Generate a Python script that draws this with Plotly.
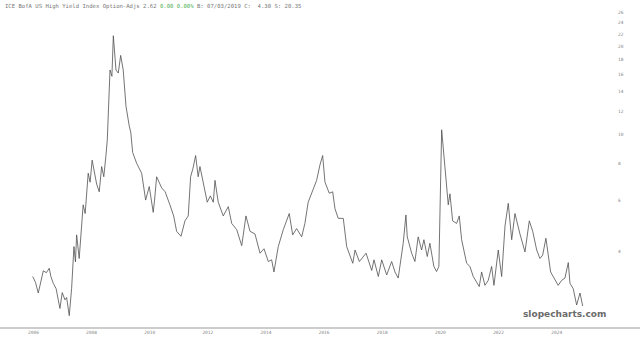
import plotly.graph_objects as go

dates = [
    "2006-03-01", "2006-04-05", "2006-05-10", "2006-06-10", "2006-07-12", "2006-08-20",
    "2006-09-25", "2006-10-15", "2006-11-14", "2006-12-20",
    "2007-02-06", "2007-03-07", "2007-04-10", "2007-05-01", "2007-06-03", "2007-07-03",
    "2007-08-01", "2007-08-20", "2007-09-04", "2007-10-06", "2007-11-25", "2007-12-20",
    "2008-01-27", "2008-02-20", "2008-03-17",
    "2008-05-12", "2008-06-14", "2008-07-14", "2008-08-10", "2008-09-06", "2008-09-23",
    "2008-10-27", "2008-11-20", "2008-12-08", "2008-12-25", "2009-01-10", "2009-02-08", "2009-03-10",
    "2009-04-11", "2009-05-16", "2009-06-26", "2009-07-15", "2009-08-08", "2009-09-27",
    "2009-11-29", "2010-01-18", "2010-03-04", "2010-04-23", "2010-05-10", "2010-06-05",
    "2010-08-07", "2010-09-20", "2010-11-19", "2011-01-05", "2011-02-11", "2011-04-07", "2011-05-27",
    "2011-07-07", "2011-08-06", "2011-09-05", "2011-10-08", "2011-11-09", "2011-12-01",
    "2012-01-20", "2012-03-02", "2012-04-10", "2012-05-17", "2012-06-07", "2012-07-18", "2012-09-19",
    "2012-11-21", "2013-01-03", "2013-03-07", "2013-05-09", "2013-07-01",
    "2013-08-21", "2013-10-23", "2013-12-25", "2014-02-13", "2014-04-08",
    "2014-05-20", "2014-06-18", "2014-08-11", "2014-10-13", "2014-12-27",
    "2015-02-08", "2015-03-30", "2015-06-01", "2015-07-12", "2015-08-22",
    "2015-10-24", "2015-12-06", "2016-01-17", "2016-02-20", "2016-03-20",
    "2016-05-13", "2016-06-25", "2016-07-24", "2016-09-03", "2016-11-05",
    "2016-12-18", "2017-03-04", "2017-04-02", "2017-05-26", "2017-08-18",
    "2017-10-28", "2017-11-26", "2018-01-19", "2018-03-03", "2018-05-04",
    "2018-07-06", "2018-08-16", "2018-09-26", "2018-11-08", "2018-11-28",
    "2019-01-01", "2019-01-18", "2019-03-14", "2019-04-24", "2019-06-04",
    "2019-07-17", "2019-08-15", "2019-09-26", "2019-10-29", "2019-12-18",
    "2020-01-21", "2020-02-19", "2020-03-25", "2020-04-14", "2020-05-06",
    "2020-06-16", "2020-07-07", "2020-08-10", "2020-09-29", "2020-11-01",
    "2020-12-01", "2021-02-02", "2021-03-15", "2021-04-26", "2021-07-10",
    "2021-08-09", "2021-09-20", "2021-10-31", "2021-12-13", "2022-01-11",
    "2022-03-06", "2022-04-18", "2022-05-30", "2022-07-10", "2022-08-22",
    "2022-10-02", "2022-12-04", "2023-02-05", "2023-03-31", "2023-05-13",
    "2023-07-02", "2023-08-12", "2023-09-15", "2023-10-26", "2023-12-24",
    "2024-02-16", "2024-03-28", "2024-05-10", "2024-06-21", "2024-08-02",
    "2024-08-23", "2024-10-03", "2024-11-15", "2024-12-27", "2025-01-30",
]

spread = [
    3.30, 3.15, 2.90, 3.20, 3.45, 3.40,
    3.52, 3.30, 3.13, 3.00,
    2.57, 2.91, 2.75, 2.80, 2.43, 3.01,
    4.17, 3.70, 4.57, 3.80, 5.78, 5.40,
    7.40, 6.90, 8.20,
    6.80, 6.40, 7.80, 7.20, 8.50, 9.60,
    16.6, 15.8, 21.7, 19.0, 16.6, 16.2, 18.6,
    16.6, 12.5, 10.7, 10.2, 8.70, 8.00,
    7.40, 6.00, 6.67, 5.45, 6.00, 7.20,
    6.60, 6.40, 5.78, 5.30, 4.70, 4.52, 5.10,
    5.30, 7.20, 7.70, 8.50, 7.20, 7.80,
    6.70, 5.90, 6.20, 5.90, 7.00, 5.90, 5.30,
    5.70, 5.00, 4.76, 4.20, 5.30,
    4.70, 4.60, 3.96, 4.10, 3.71,
    3.76, 3.42, 4.17, 4.76, 5.40,
    4.57, 4.80, 4.50, 5.00, 5.90,
    6.60, 7.00, 7.90, 8.50, 6.90,
    6.33, 6.40, 5.60, 5.20, 5.20,
    4.17, 3.66, 4.06, 3.71, 3.96,
    3.46, 3.76, 3.30, 3.76, 3.34,
    3.71, 3.42, 3.26, 3.86, 4.28,
    5.34, 4.50, 3.96, 3.71, 4.50,
    4.06, 4.40, 3.86, 4.28, 3.57,
    3.43, 3.57, 10.4, 9.10, 7.50,
    5.78, 6.30, 5.10, 5.00, 5.30,
    4.40, 3.66, 3.57, 3.30, 3.05,
    3.42, 3.08, 3.20, 3.57, 3.08,
    4.06, 3.30, 4.90, 5.85, 4.40,
    5.40, 4.60, 4.00, 5.10, 4.70,
    4.06, 3.80, 3.90, 4.45, 3.42,
    3.20, 3.08, 3.20, 3.26, 3.68,
    3.13, 3.00, 2.64, 2.90, 2.62,
]

x_tick_years = ["2006", "2008", "2010", "2012", "2014", "2016", "2018", "2020", "2022", "2024"]
y_ticks = [4, 6, 8, 10, 12, 14, 16, 18, 20, 22, 24, 26]

title_main = "ICE BofA US High Yield Index Option-Adjs 2.62 "
title_chg = "0.00 0.00%"
title_rest = " B: 07/03/2019 C:  4.30 S: 20.35"

fig = go.Figure()
fig.add_trace(go.Scatter(
    x=dates, y=spread, mode="lines",
    line=dict(color="#505050", width=0.8),
    hoverinfo="skip", showlegend=False,
))

W, H = 640, 343
L, R, T, B = 0, 23, 10, 15

fig.update_layout(
    width=W, height=H,
    margin=dict(l=L, r=R, t=T, b=B, pad=0),
    paper_bgcolor="white", plot_bgcolor="white",
    font=dict(family="DejaVu Sans Mono", size=5, color="#888888"),
    xaxis=dict(
        type="date",
        range=["2005-01-14", "2026-04-06"],
        tickvals=[f"{y}-01-01" for y in x_tick_years],
        ticktext=x_tick_years,
        ticks="", showgrid=False, zeroline=False,
        showline=False,
        ticklabelposition="outside right",
        tickfont=dict(size=4.5, color="#888888"),
    ),
    yaxis=dict(
        type="log", side="right",
        range=[0.3436, 1.4238],
        tickvals=y_ticks, ticktext=[str(v) for v in y_ticks],
        ticks="", showgrid=False, zeroline=False, showline=False,
        tickfont=dict(size=4.5, color="#888888"),
    ),
)

# bottom axis line across full width
fig.add_shape(type="line", xref="paper", yref="paper",
              x0=0, x1=W / (W - L - R), y0=0, y1=0,
              line=dict(color="#9a9a9a", width=1))

fig.add_annotation(
    xref="paper", yref="paper", x=3 / (W - R), y=1 + 4 / (H - T - B),
    xanchor="left", yanchor="middle", showarrow=False,
    text=(f"<span style='color:#777777'>{title_main}</span>"
          f"<span style='color:#4caf50'>{title_chg}</span>"
          f"<span style='color:#777777'>{title_rest}</span>"),
    font=dict(family="DejaVu Sans Mono", size=5.6, color="#777777"),
)

fig.add_annotation(
    xref="paper", yref="paper", x=(608) / (W - R), y=(328 - 314) / (H - T - B),
    xanchor="right", yanchor="middle", showarrow=False,
    text="<b>slopecharts.com</b>",
    font=dict(family="DejaVu Sans", size=9, color="#6b6b6b"),
)

fig.write_html("out.html")
